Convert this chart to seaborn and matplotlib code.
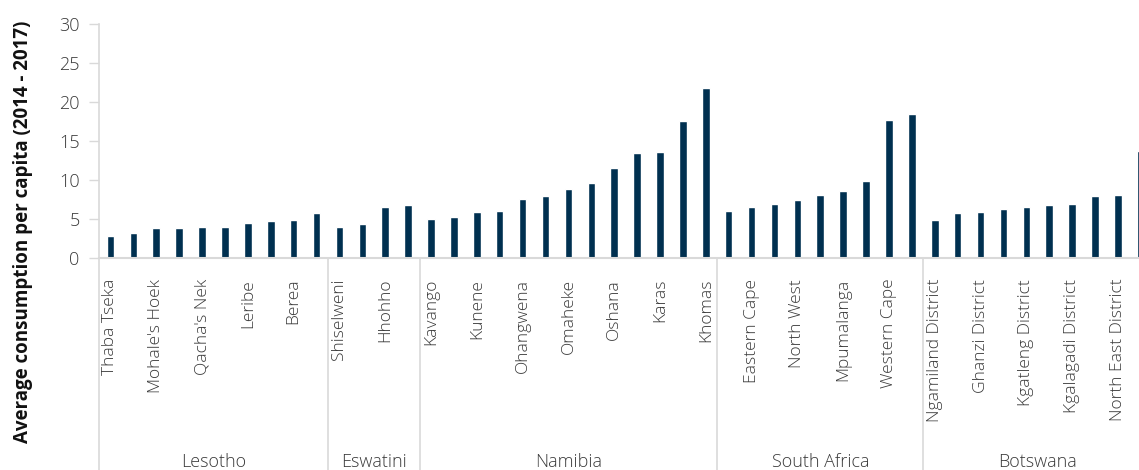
import matplotlib
matplotlib.use("Agg")
import matplotlib.pyplot as plt
import matplotlib.transforms as mtransforms
import seaborn as sns
import pandas as pd

# ---- data ----
lesotho = ["Thaba Tseka", "Mokhotlong", "Mohale's Hoek", "Quthing", "Qacha's Nek",
           "Mafeteng", "Leribe", "Butha-Buthe", "Berea", "Maseru"]
lesotho_vals = [2.8, 3.15, 3.85, 3.85, 4.0, 4.0, 4.5, 4.7, 4.85, 5.75]

eswatini = ["Shiselweni", "Lubombo", "Hhohho", "Manzini"]
eswatini_vals = [4.0, 4.35, 6.6, 6.75]

namibia = ["Kavango", "Zambezi", "Kunene", "Omusati", "Ohangwena", "Oshikoto",
           "Omaheke", "Otjozondjupa", "Oshana", "Hardap", "Karas", "Erongo", "Khomas"]
namibia_vals = [5.05, 5.2, 5.9, 6.05, 7.6, 7.95, 8.8, 9.65, 11.55, 13.4, 13.6, 17.55, 21.8]

south_africa = ["Limpopo", "Eastern Cape", "KwaZulu-Natal", "North West", "Free State",
                "Mpumalanga", "Northern Cape", "Western Cape", "Gauteng"]
south_africa_vals = [6.05, 6.6, 6.9, 7.45, 8.1, 8.65, 9.85, 17.7, 18.4]

botswana = ["Ngamiland District", "Central District", "Ghanzi District", "Kweneng District",
            "Kgatleng District", "Southern District", "Kgalagadi District", "Chobe District",
            "North East District", "South East District"]
botswana_vals = [4.85, 5.75, 5.9, 6.25, 6.6, 6.75, 6.9, 7.95, 8.1, 13.75]

countries = ["Lesotho", "Eswatini", "Namibia", "South Africa", "Botswana"]
groups = [(lesotho, lesotho_vals), (eswatini, eswatini_vals), (namibia, namibia_vals),
          (south_africa, south_africa_vals), (botswana, botswana_vals)]

rows = []
for c, (names, vals) in zip(countries, groups):
    for n, v in zip(names, vals):
        rows.append({"country": c, "region": n, "value": v})
df = pd.DataFrame(rows)

# ---- style ----
sns.set_theme(style="white")
plt.rcParams["font.family"] = ["Open Sans", "DejaVu Sans"]

W, H = 1139, 470
fig = plt.figure(figsize=(W / 100, H / 100), dpi=100)
left_px, right_px, top_px, bottom_px = 99, 1139, 24, 258
ax = fig.add_axes([left_px / W, 1 - bottom_px / H,
                   (right_px - left_px) / W, (bottom_px - top_px) / H])

bar_color = "#003050"
sns.barplot(data=df, x="region", y="value", order=list(df["region"]),
            color=bar_color, width=0.33, saturation=1, ax=ax, errorbar=None)

n = len(df)
ax.set_xlim(-0.5, 44.92)
ax.set_ylim(0, 30)
ax.set_yticks(range(0, 31, 5))
ax.set_yticklabels([str(v) for v in range(0, 31, 5)], fontsize=13,
                   color="#3a3a3a", fontweight="light")
tick_pos = list(range(0, n, 2))
ax.set_xticks(tick_pos)
ax.set_xticklabels([df["region"][i] for i in tick_pos], rotation=90,
                   fontsize=12.5, color="#3a3a3a", va="top", ha="center",
                   fontweight="light")
ax.tick_params(axis="x", length=0, pad=15)
ax.tick_params(axis="y", length=7, width=1, color="#d9d9d9", pad=7, left=True)

ax.set_xlabel("")
ax.set_ylabel("")
for s in ["top", "right"]:
    ax.spines[s].set_visible(False)
ax.spines["left"].set_color("#d9d9d9")
ax.spines["bottom"].set_color("#d9d9d9")
ax.spines["left"].set_linewidth(1.2)
ax.spines["bottom"].set_linewidth(1.5)

# group separators and country labels
trans = mtransforms.blended_transform_factory(ax.transData, fig.transFigure)
axis_bottom_frac = 1 - bottom_px / H
start = 0
bounds = [-0.5]
for c, (names, vals) in zip(countries, groups):
    end = start + len(names)
    bounds.append(end - 0.5)
    center = (start + end - 1) / 2
    ax.text(center, 3 / H, c, transform=trans, ha="center", va="baseline",
            fontsize=13, color="#3a3a3a", fontweight="light")
    start = end
for b in bounds[:-1]:
    ax.plot([b, b], [0, axis_bottom_frac], transform=trans, color="#d9d9d9",
            lw=1.2, clip_on=False)

fig.text(23 / W, 1 - 232 / H, "Average consumption per capita (2014 - 2017)",
         rotation=90, ha="center", va="center", fontsize=13.5,
         fontweight="bold", color="#111111")

fig.savefig("out.png", dpi=100)
